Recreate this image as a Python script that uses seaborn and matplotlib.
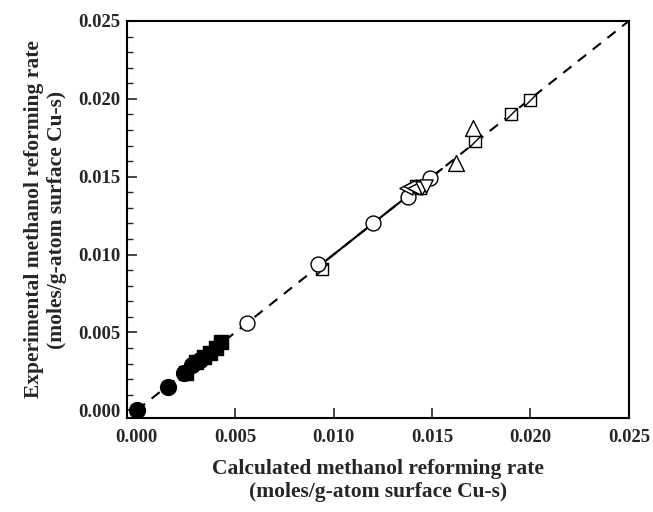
import numpy as np
import matplotlib
matplotlib.use("Agg")
import matplotlib.pyplot as plt
import seaborn as sns

# calculated (x) vs experimental (y) rates, moles/g-atom surface Cu-s
fc_x = [0.0000, 0.0016, 0.0024, 0.0028, 0.0032]
fc_y = [0.0000, 0.0015, 0.0024, 0.0029, 0.0032]

fs_x = [0.0025, 0.0030, 0.0034, 0.0037, 0.0040, 0.0043]
fs_y = [0.0024, 0.0031, 0.0034, 0.0037, 0.0040, 0.0044]

oc_x = [0.0056, 0.0092, 0.0120, 0.0138, 0.0149]
oc_y = [0.0056, 0.0094, 0.0120, 0.0137, 0.0149]

sq_x = [0.0094, 0.0142, 0.0144, 0.0172, 0.0190, 0.0200]
sq_y = [0.0091, 0.0144, 0.0143, 0.0173, 0.0190, 0.0199]

tu_x = [0.0162, 0.0171]
tu_y = [0.0159, 0.0181]

tl_x = [0.0137, 0.0139, 0.0141]
tl_y = [0.0143, 0.0144, 0.0143]

td_x = [0.0145, 0.0147]
td_y = [0.0143, 0.0144]

parity = [0.0, 0.025]
fit_range = [0.0092, 0.0155]
ticks = [0.000, 0.005, 0.010, 0.015, 0.020, 0.025]

sns.set_style("ticks")
plt.rcParams['font.family'] = ['Liberation Serif', 'DejaVu Serif']
plt.rcParams['font.weight'] = 'bold'

fig = plt.figure(figsize=(6.53, 5.12), dpi=100)
ax = fig.add_axes([0.1945, 0.1836, 0.7685, 0.7754])

sns.lineplot(x=parity, y=parity, ax=ax, color='black', lw=1.5,
             linestyle=(0, (5, 4)), zorder=1)
sns.lineplot(x=fit_range, y=fit_range, ax=ax, color='black', lw=1.5, zorder=1)

# square with a diagonal stroke
sq_marker = [(-1, -1), (1, -1), (1, 1), (-1, 1), (-1, -1), (1, 1)]

common = dict(ax=ax, edgecolor='black', linewidth=1.0, zorder=3, legend=False)
sns.scatterplot(x=fc_x, y=fc_y, marker='o', s=130, color='black', **common)
sns.scatterplot(x=fs_x, y=fs_y, marker='s', s=90, color='black', **common)
sns.scatterplot(x=sq_x, y=sq_y, marker=sq_marker, s=75, color='white', **common)
sns.scatterplot(x=oc_x, y=oc_y, marker='o', s=115, color='white', **common)
sns.scatterplot(x=tu_x, y=tu_y, marker='^', s=130, color='white', **common)
sns.scatterplot(x=tl_x, y=tl_y, marker='<', s=90, color='white', **common)
sns.scatterplot(x=td_x, y=td_y, marker='v', s=90, color='white', **common)

ax.set_xlim(-0.0005, 0.025)
ax.set_ylim(-0.0005, 0.025)
ax.set_xticks(ticks)
ax.set_yticks(ticks)
ax.set_xticklabels([f"{t:.3f}" for t in ticks])
ax.set_yticklabels([f"{t:.3f}" for t in ticks])
ax.yaxis.set_minor_locator(matplotlib.ticker.MultipleLocator(0.001))

ax.tick_params(axis='both', which='major', direction='in', length=7, width=1.2,
               labelsize=13.5, top=False, right=False)
ax.tick_params(axis='x', which='major', pad=8)
ax.tick_params(axis='y', which='major', pad=5)
ax.tick_params(axis='y', which='minor', direction='in', length=4, width=1.0, left=True)
for lab in ax.get_xticklabels() + ax.get_yticklabels():
    lab.set_fontweight('bold')

for sp in ax.spines.values():
    sp.set_linewidth(1.5)
    sp.set_color('black')
    sp.set_visible(True)

ax.set_xlabel("Calculated methanol reforming rate\n(moles/g-atom surface Cu-s)",
              fontsize=15.5, fontweight='bold', labelpad=9)
ax.set_ylabel("Experimental methanol reforming rate\n(moles/g-atom surface Cu-s)",
              fontsize=15.5, fontweight='bold', labelpad=8)

fig.savefig("out.png", dpi=100)
